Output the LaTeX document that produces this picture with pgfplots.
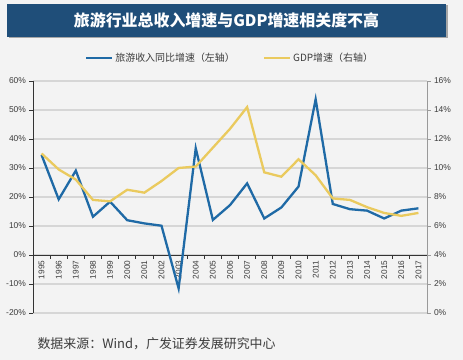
\documentclass[border=0pt]{standalone}
\usepackage{pgfplots}
\pgfplotsset{compat=1.18}
\usepackage{fontspec}
\setmainfont{Liberation Sans}
\newfontfamily\cjk{Noto Sans CJK SC}
\definecolor{bgc}{RGB}{243,243,243}
\definecolor{titlec}{RGB}{31,78,121}
\definecolor{bluec}{RGB}{31,106,166}
\definecolor{yelc}{RGB}{234,202,94}
\definecolor{gridc}{RGB}{214,214,214}
\definecolor{txtc}{RGB}{60,60,60}
\begin{document}
\begin{tikzpicture}
\fill[bgc] (0,0) rectangle (463bp,360bp);
\useasboundingbox (0,0) rectangle (463bp,360bp);
% title box
\fill[black!35] (8.5bp,321.5bp) rectangle (447.5bp,354.5bp);
\fill[titlec] (7bp,323bp) rectangle (446bp,356bp);
\node[text=white, font=\cjk\bfseries\fontsize{16}{19}\selectfont] at (226.5bp,339.5bp) {旅游行业总收入增速与GDP增速相关度不高};
% source
\node[anchor=west, text=txtc, font=\cjk\fontsize{13}{15}\selectfont] at (34bp,16bp) {数据来源：Wind，广发证券发展研究中心};

\begin{axis}[
  at={(33bp,47bp)}, anchor=south west,
  scale only axis, width=394bp, height=232bp,
  xmin=-0.5, xmax=22.5, ymin=-20, ymax=60,
  axis x line=middle, axis y line=left, axis line style={-, draw=black!80, line width=0.9bp},
  hide obscured x ticks=false, hide obscured y ticks=false,
  tick align=outside, major tick length=3.5bp,
  tick style={black!80, line width=0.8bp},
  xtick={-0.5,0.5,...,22.5},
  x tick label as interval,
  xticklabels={1995,1996,1997,1998,1999,2000,2001,2002,2003,2004,2005,2006,2007,2008,2009,2010,2011,2012,2013,2014,2015,2016,2017},
  xticklabel style={rotate=90, anchor=east, font=\fontsize{8.3}{9}\selectfont, text=txtc, inner sep=2bp},
  ytick={-20,-10,...,60},
  yticklabel={\pgfmathparse{int(\tick)}\pgfmathresult\%},
  yticklabel style={font=\fontsize{8.5}{10}\selectfont, text=txtc},
  ymajorgrids, grid style={gridc, line width=1.2bp},
  legend style={at={(0.5,1)}, anchor=south, yshift=14bp, draw=none, fill=none,
    font=\cjk\fontsize{10}{12}\selectfont, text=txtc, legend columns=2,
    /tikz/every even column/.append style={column sep=26bp}},
  legend image code/.code={\draw[#1] (0bp,0bp) -- (26bp,0bp);},
]
\addplot[bluec, line width=2.3bp] coordinates {
(0,34.5) (1,19.2) (2,29.1) (3,13.2) (4,18.4) (5,12.0) (6,10.9) (7,10.1) (8,-11.5) (9,36.8) (10,12.1) (11,17.2) (12,24.7) (13,12.6) (14,16.4) (15,23.6) (16,53.7) (17,17.6) (18,15.8) (19,15.3) (20,12.6) (21,15.3) (22,16.1)};
\addlegendentry{旅游收入同比增速（左轴）}
\addlegendimage{yelc, line width=2.3bp}
\addlegendentry{GDP增速（右轴）}
\end{axis}

\begin{axis}[
  at={(33bp,47bp)}, anchor=south west,
  scale only axis, width=394bp, height=232bp,
  xmin=-0.5, xmax=22.5, ymin=0, ymax=16,
  axis x line=none, axis y line*=right, axis line style={-, draw=black!40, line width=0.9bp},
  tick align=outside, major tick length=3.5bp,
  tick style={black!40, line width=0.8bp},
  ytick={0,2,...,16},
  yticklabel={\pgfmathparse{int(\tick)}\pgfmathresult\%},
  yticklabel style={font=\fontsize{8.5}{10}\selectfont, text=txtc},
]
\addplot[yelc, line width=2.3bp] coordinates {
(0,11.0) (1,9.9) (2,9.2) (3,7.8) (4,7.7) (5,8.5) (6,8.3) (7,9.1) (8,10.0) (9,10.1) (10,11.4) (11,12.7) (12,14.2) (13,9.7) (14,9.4) (15,10.6) (16,9.5) (17,7.9) (18,7.8) (19,7.3) (20,6.9) (21,6.7) (22,6.9)};
\end{axis}
\end{tikzpicture}
\end{document}
